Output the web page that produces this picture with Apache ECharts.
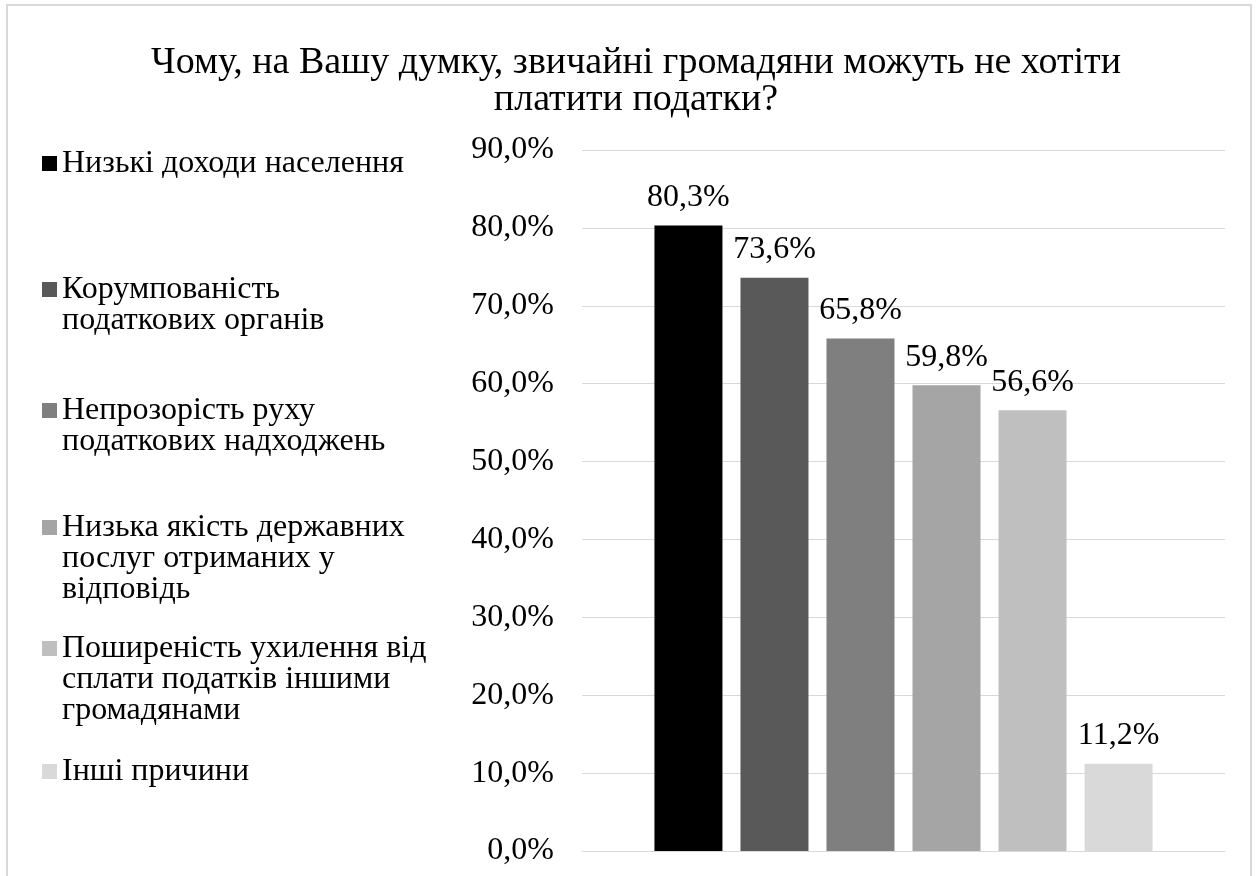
<!DOCTYPE html>
<html>
<head>
<meta charset="utf-8">
<script src="https://cdn.jsdelivr.net/npm/echarts@6/dist/echarts.min.js"></script>
<style>
  html, body { margin: 0; padding: 0; background: #fff; }
  #frame { position: absolute; left: 6px; top: 4px; width: 1242px; height: 900px; border: 2px solid #d9d9d9; pointer-events: none; }
  #chart { position: absolute; left: 0; top: 0; width: 1257px; height: 876px; }
</style>
</head>
<body>
<div id="chart"></div>
<div id="frame"></div>
<script>
// дані
const reasons = [
  'Низькі доходи населення',
  'Корумпованість податкових органів',
  'Непрозорість руху податкових надходжень',
  'Низька якість державних послуг отриманих у відповідь',
  'Поширеність ухилення від сплати податків іншими громадянами',
  'Інші причини'
]
const legendLabels = [
  'Низькі доходи населення',
  'Корумпованість\nподаткових органів',
  'Непрозорість руху\nподаткових надходжень',
  'Низька якість державних\nпослуг отриманих у\nвідповідь',
  'Поширеність ухилення від\nсплати податків іншими\nгромадянами',
  'Інші причини'
]
const shares = [80.3, 73.6, 65.8, 59.8, 56.6, 11.2]
const yTicks = { min: 0, max: 90, step: 10 }

const colors = ['#000000', '#595959', '#7f7f7f', '#a5a5a5', '#bfbfbf', '#d9d9d9']
const font = "'Liberation Serif', 'Times New Roman', serif"
const pct = v => v.toFixed(1).replace('.', ',') + '%'

const chart = echarts.init(document.getElementById('chart'))

// центр першого рядка кожного пункту легенди
const legendCenters = [158, 284, 405, 522, 643, 766]
const LH = 31
const legends = reasons.map((name, i) => {
  const n = legendLabels[i].split('\n').length
  // порожні рядки зверху, щоб значок стояв біля першого рядка
  const txt = '\n'.repeat(n - 1) + legendLabels[i]
  return {
    data: [name],
    left: 37,
    top: legendCenters[i] - (2 * n - 1) * LH / 2,
    orient: 'vertical',
    icon: 'rect',
    itemWidth: 15,
    itemHeight: 15,
    selectedMode: false,
    formatter: () => txt,
    textStyle: {
      fontFamily: font,
      fontSize: 32,
      color: '#000',
      lineHeight: LH
    }
  }
})

const option = {
  animation: false,
  title: {
    text: 'Чому, на Вашу думку, звичайні громадяни можуть не хотіти\nплатити податки?',
    left: 631,
    textAlign: 'center',
    top: 40,
    textStyle: {
      fontFamily: font,
      fontSize: 38,
      fontWeight: 'normal',
      color: '#000',
      lineHeight: 37
    }
  },
  legend: legends,
  grid: { left: 582, right: 32, top: 150, bottom: 25 },
  xAxis: {
    type: 'category',
    data: [''],
    axisLine: { show: true, lineStyle: { color: '#d9d9d9' } },
    axisTick: { show: false },
    axisLabel: { show: false }
  },
  yAxis: {
    type: 'value',
    min: yTicks.min,
    max: yTicks.max,
    interval: yTicks.step,
    axisLine: { show: false },
    axisTick: { show: false },
    splitLine: { lineStyle: { color: '#d9d9d9', width: 1 } },
    axisLabel: {
      margin: 28,
      fontFamily: font,
      fontSize: 32,
      color: '#000',
      formatter: v => pct(v)
    }
  },
  series: reasons.map((name, i) => ({
    name: name,
    type: 'bar',
    data: [shares[i]],
    barWidth: 68,
    barGap: '26.5%',
    itemStyle: { color: colors[i] },
    label: {
      show: true,
      position: 'top',
      distance: 12,
      fontFamily: font,
      fontSize: 32,
      color: '#000',
      formatter: p => pct(p.value)
    }
  }))
}
chart.setOption(option)
</script>
</body>
</html>
